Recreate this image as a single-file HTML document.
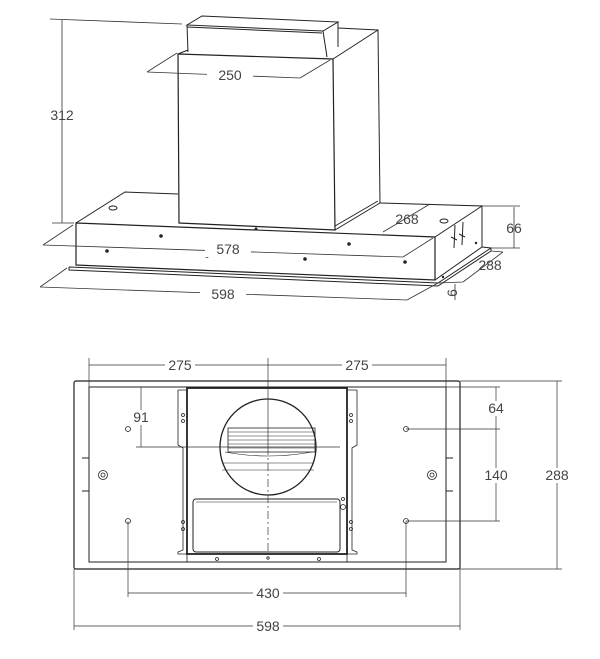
<!DOCTYPE html>
<html><head><meta charset="utf-8"><style>
html,body{margin:0;padding:0;background:#fff;}
svg{display:block}
text{font-family:"Liberation Sans","DejaVu Sans",sans-serif;font-size:14px;fill:#444;}
</style></head><body>
<svg width="600" height="659" viewBox="0 0 600 659" xmlns="http://www.w3.org/2000/svg">
<g fill="none" stroke="#222" stroke-width="1">
<!-- top box -->
<path d="M187,25 L202,16 L338,22 L323,31 Z" />
<path d="M187,25 L188,52 M323,31 L327,57 M338,22 L338,47"/>
<path d="M187,27 L322,33"/>
<!-- chimney -->
<path d="M178,54 L333,59 L335,230 L179,223 Z" stroke-width="1.2"/>
<path d="M333,59 L378,30 L380,203 M338,28 L378,30 M178,54 L188,50"/>
<path d="M335,230 L380,203" />
<path d="M335,226 L378,201"/>
<!-- base -->
<path d="M76,223 L435,237 L435,280 L76,265 Z" stroke-width="1.2"/>
<path d="M76,223 L125,192 L178,194 M380,203 L482,206 L435,237 M482,206 L482,247 L435,280"/>
<path d="M69,267 L438,283 L491,248 L482,247 M69,267 L69,270 L438,286 L491,251 L491,248"/>
<!-- dims top -->
<g stroke="#333" stroke-width="0.8">
<path d="M62,20 L62,223 M50,19 L182,24 M52,223 L74,223"/>
<path d="M147,72 L300,78 M147,72 L177,53 M300,78 L330,60"/>
<path d="M43,245 L403,257 M43,245 L73,225 M403,257 L433,238"/>
<path d="M40,287 L407,300 M40,287 L67,268 M407,300 L438,283"/>
<path d="M383,232 L430,204"/>
<path d="M514,207 L514,248 M483,206 L520,206 M492,248 L520,248"/>
<path d="M463,282 L503,252 M438,283 L463,282 M491,251 L503,252"/>
<path d="M455,284 L455,300"/>
</g>
<!-- dots -->
<g fill="#222" stroke="none">
<circle cx="161" cy="236" r="1.8"/><circle cx="207" cy="256" r="1.8"/><circle cx="305" cy="259" r="1.8"/><circle cx="405" cy="262" r="1.8"/><circle cx="107" cy="251" r="1.8"/><circle cx="349" cy="244" r="1.8"/><circle cx="256" cy="229" r="1.5"/><circle cx="443" cy="277" r="1.2"/><circle cx="476" cy="243" r="1.2"/>
</g>
<ellipse cx="113" cy="208" rx="4" ry="2"/><ellipse cx="444" cy="221" rx="4" ry="2"/>
<path d="M455,225 L454,248 M463,222 L462,245 M451,237 L457,240 M459,234 L465,237"/>
</g>
<g text-anchor="middle">
<text x="62" y="120" fill="#444">312</text>
<rect x="207" y="67" width="46" height="15" fill="#fff"/><text x="230" y="80">250</text>
<rect x="205" y="242" width="46" height="15" fill="#fff"/><text x="228" y="254">578</text>
<rect x="200" y="287" width="46" height="15" fill="#fff"/><text x="223" y="299">598</text>
<text x="407" y="224">268</text>
<text x="514" y="233">66</text>
<text x="490" y="270">288</text>
<text x="0" y="0" transform="translate(457,293) rotate(-90)">6</text>
</g>

<!-- bottom view -->
<g fill="none" stroke="#222" stroke-width="1">
<rect x="74" y="381" width="386" height="188" rx="2" stroke-width="1.2"/>
<rect x="89" y="387" width="357" height="175"/>
<path d="M178,390 L187,390 L187,562 L347,562 L347,390 L357,390 M178,390 L178,445 L183,448 L183,550 L178,552 L178,554 L187,554 M357,390 L357,445 L352,448 L352,550 L357,552 L357,554 L347,554" stroke-width="0.8"/>
<rect x="187" y="388" width="160" height="166" stroke-width="1.8"/>
<circle cx="268" cy="447" r="48" stroke-width="1.3"/>
<rect x="228" y="428" width="87" height="24" stroke-width="0.8"/>
<path d="M228,432 L315,432 M228,436 L315,436 M228,440 L315,440 M228,444 L315,444 M228,448 L315,448 M225,452 Q268,460 312,452 M222,463 L314,463 M222,470 L314,470" stroke-width="0.6"/>
<rect x="193" y="499" width="147" height="53" rx="3" stroke-width="1"/>
<path d="M196,502 L337,502" stroke-width="0.6"/>
<g stroke-width="0.8"><circle cx="128" cy="429" r="2.5"/><circle cx="406" cy="429" r="2.5"/><circle cx="128" cy="521" r="2.5"/><circle cx="406" cy="521" r="2.5"/>
<circle cx="103" cy="475" r="4.5"/><circle cx="432" cy="475" r="4.5"/><circle cx="103" cy="475" r="2"/><circle cx="432" cy="475" r="2"/>
<circle cx="183" cy="415" r="1.5"/><circle cx="183" cy="421" r="1.5"/><circle cx="351" cy="415" r="1.5"/><circle cx="351" cy="421" r="1.5"/>
<circle cx="183" cy="522" r="1.5"/><circle cx="183" cy="529" r="1.5"/><circle cx="351" cy="522" r="1.5"/><circle cx="351" cy="529" r="1.5"/>
<circle cx="217" cy="559" r="1.5"/><circle cx="268" cy="558" r="1.2"/><circle cx="319" cy="559" r="1.5"/>
<circle cx="343" cy="507" r="2.5"/><circle cx="343" cy="499" r="1.5"/></g>
<path d="M82,458 L89,458 M82,491 L89,491 M446,458 L453,458 M446,491 L453,491" />
<!-- dims -->
<g stroke="#333" stroke-width="0.7">
<path d="M89,365 L446,365 M89,358 L89,387 M446,358 L446,387"/>
<path d="M268,358 L268,447" />
<path d="M268,447 L268,555" stroke-dasharray="8,3,2,3"/>
<path d="M141,387 L141,447 M136,447 L340,447"/>
<path d="M496,387 L496,521 M446,387 L500,387 M406,429 L500,429 M406,521 L500,521 M492,429 L500,429"/>
<path d="M557,381 L557,569 M460,381 L562,381 M460,569 L562,569"/>
<path d="M128,593 L406,593 M128,521 L128,597 M406,521 L406,597"/>
<path d="M74,626 L460,626 M74,569 L74,630 M460,569 L460,630"/>
</g>
</g>
<g text-anchor="middle">
<rect x="165" y="357" width="30" height="15" fill="#fff"/><text x="180" y="370">275</text>
<rect x="342" y="357" width="30" height="15" fill="#fff"/><text x="357" y="370">275</text>
<rect x="133" y="410" width="17" height="15" fill="#fff"/><text x="141" y="422">91</text>
<rect x="486" y="401" width="20" height="15" fill="#fff"/><text x="496" y="413">64</text>
<rect x="482" y="468" width="28" height="15" fill="#fff"/><text x="496" y="480">140</text>
<rect x="543" y="468" width="28" height="15" fill="#fff"/><text x="557" y="480">288</text>
<rect x="253" y="586" width="30" height="15" fill="#fff"/><text x="268" y="598">430</text>
<rect x="253" y="619" width="30" height="15" fill="#fff"/><text x="268" y="631">598</text>
</g>
</svg>
</body></html>
